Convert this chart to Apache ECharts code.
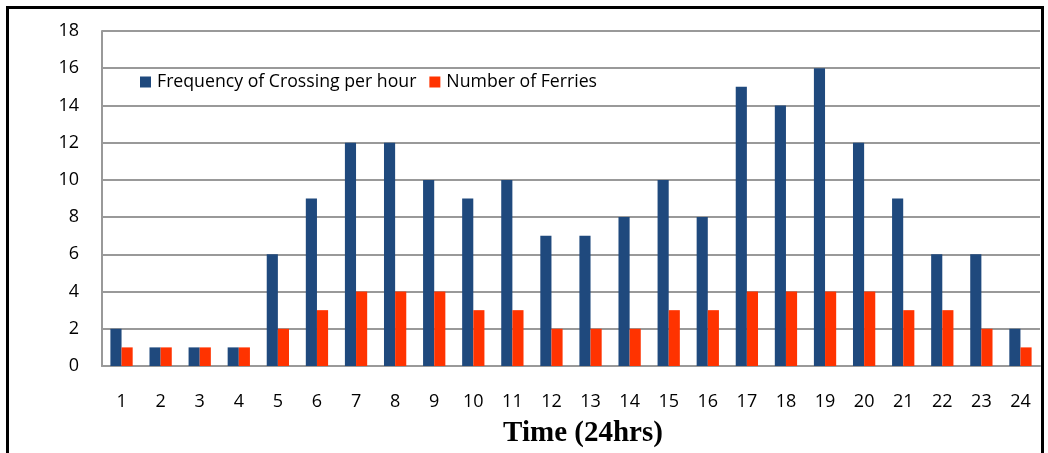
<!DOCTYPE html>
<html><head><meta charset="utf-8">
<script src="https://cdn.jsdelivr.net/npm/echarts@6/dist/echarts.min.js"></script>
<style>html,body{margin:0;padding:0;background:#fff}#c{width:1048px;height:453px}</style>
</head><body><div id="c"></div>
<script>
const categories = ['1','2','3','4','5','6','7','8','9','10','11','12','13','14','15','16','17','18','19','20','21','22','23','24'];
const crossings = [2,1,1,1,6,9,12,12,10,9,10,7,7,8,10,8,15,14,16,12,9,6,6,2];
const ferries = [1,1,1,1,2,3,4,4,4,3,3,2,2,2,3,3,4,4,4,4,3,3,2,1];
const seriesNames = ['Frequency of Crossing per hour','Number of Ferries'];
const xTitle = 'Time (24hrs)';

const chart = echarts.init(document.getElementById('c'));
const font = '"Open Sans", sans-serif';
chart.setOption({
  animation: false,
  grid: {left: 102, right: 8, top: 31, bottom: 87},
  legend: {
    left: 140, top: 73, padding: 0, itemWidth: 11, itemHeight: 11, itemGap: 13,
    icon: 'rect',
    textStyle: {fontFamily: font, fontSize: 17.7, color: '#000', padding: [0,0,0,1]},
    data: seriesNames
  },
  title: {
    text: xTitle, left: 578, top: 414, textAlign: 'center',
    textStyle: {fontFamily: '"Liberation Serif", serif', fontWeight: 'bold', fontSize: 29, color: '#000'}
  },
  xAxis: {
    type: 'category', data: categories,
    axisLine: {lineStyle: {color: '#999', width: 2}},
    axisTick: {show: false},
    axisLabel: {fontFamily: font, fontSize: 18, color: '#000', margin: 27}
  },
  yAxis: {
    type: 'value', min: 0, max: 18, interval: 2,
    axisLine: {show: true, lineStyle: {color: '#999', width: 2}},
    axisTick: {show: false},
    splitLine: {lineStyle: {color: '#999', width: 2}},
    axisLabel: {fontFamily: font, fontSize: 18, color: '#000', margin: 23}
  },
  series: [
    {name: seriesNames[0], type: 'bar', data: crossings, barGap: '0%', barCategoryGap: '43%',
     itemStyle: {color: '#1F497D'}},
    {name: seriesNames[1], type: 'bar', data: ferries,
     itemStyle: {color: '#FF3300'}}
  ],
  graphic: [{
    type: 'rect', silent: true, z: 100,
    shape: {x: 7.5, y: 7.5, width: 1035, height: 470},
    style: {fill: 'none', stroke: '#000', lineWidth: 3}
  }]
});
</script></body></html>
